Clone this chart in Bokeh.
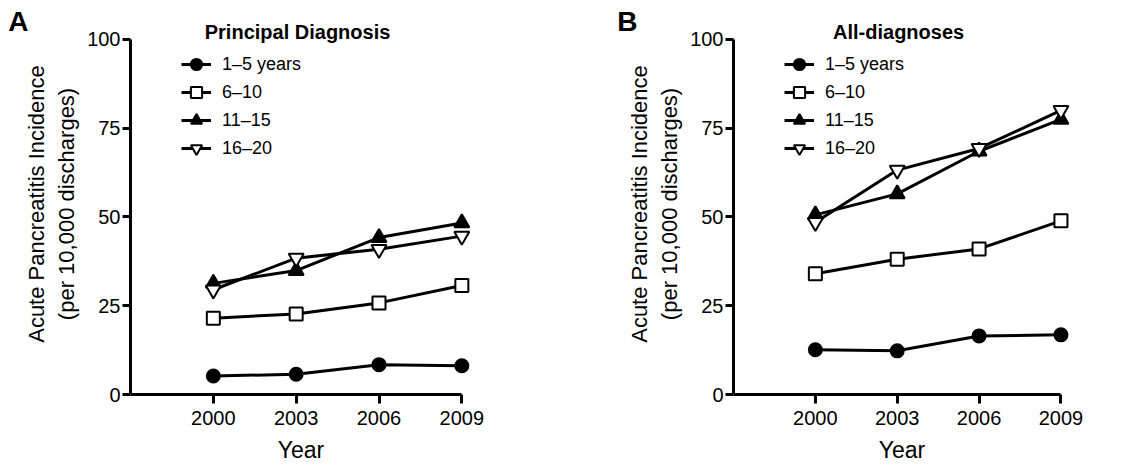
from bokeh.plotting import figure
from bokeh.layouts import row
from bokeh.models import Range1d, FixedTicker, Label, Legend, LegendItem, LinearAxis
from bokeh.embed import file_html
from bokeh.resources import INLINE

years = [2000, 2003, 2006, 2009]
groups = ["1\u20135 years", "6\u201310", "11\u201315", "16\u201320"]

# Panel A: Principal Diagnosis
a_1_5 = [5.2, 5.7, 8.4, 8.1]
a_6_10 = [21.5, 22.7, 25.8, 30.7]
a_11_15 = [31.3, 34.9, 44.2, 48.3]
a_16_20 = [29.5, 38.4, 40.9, 44.6]

# Panel B: All-diagnoses
b_1_5 = [12.6, 12.3, 16.5, 16.8]
b_6_10 = [34.0, 38.1, 41.0, 48.9]
b_11_15 = [50.6, 56.5, 68.5, 77.5]
b_16_20 = [48.5, 63.2, 69.3, 80.0]

y_ticks = [0, 25, 50, 75, 100]

FONT = "Liberation Sans"
markers = [("circle", 13, "black"), ("square", 13, "white"),
           ("triangle", 15, "black"), ("inverted_triangle", 15, "white")]


def make_panel(letter, title, series, width, border_left, border_right, letter_standoff):
    p = figure(width=width, height=465, output_backend="svg", toolbar_location=None,
               x_range=Range1d(1997, 2009.35), y_range=Range1d(0, 107.3),
               min_border_left=border_left, min_border_right=border_right,
               min_border_top=13, min_border_bottom=70)
    p.outline_line_color = None
    p.grid.visible = False
    p.background_fill_color = "white"
    p.border_fill_color = "white"

    for ax in (p.xaxis[0], p.yaxis[0]):
        ax.axis_line_width = 3
        ax.major_tick_line_width = 3
        ax.major_tick_in = 0
        ax.minor_tick_line_color = None
        ax.major_label_text_font = FONT
        ax.major_label_text_font_size = "20px"
        ax.major_label_text_color = "black"
        ax.axis_label_text_font = FONT
        ax.axis_label_text_font_style = "normal"
        ax.axis_label_text_color = "black"
    p.xaxis.ticker = FixedTicker(ticks=years)
    p.xaxis.bounds = (1997, 2009)
    p.xaxis.axis_label = "Year"
    p.xaxis.axis_label_text_font_size = "23px"
    p.xaxis.major_tick_out = 9
    p.xaxis.major_label_standoff = 7
    p.xaxis.axis_label_standoff = 9
    p.yaxis.ticker = FixedTicker(ticks=y_ticks)
    p.yaxis.bounds = (0, 100)
    p.yaxis.axis_label = "Acute Pancreatitis Incidence\n(per 10,000 discharges)"
    p.yaxis.axis_label_text_font_size = "22px"
    p.yaxis.major_tick_out = 8
    p.yaxis.major_label_standoff = 2
    p.yaxis.axis_label_standoff = 5

    # panel letter, drawn as the only tick label of an outer, invisible axis
    letter_axis = LinearAxis(ticker=FixedTicker(ticks=[105]),
                             major_label_overrides={105: letter},
                             axis_line_color=None, major_tick_line_color=None,
                             minor_tick_line_color=None, major_tick_out=0,
                             major_tick_in=0, major_label_standoff=letter_standoff,
                             major_label_text_font=FONT,
                             major_label_text_font_size="28px",
                             major_label_text_font_style="bold",
                             major_label_text_color="black")
    p.add_layout(letter_axis, "left")

    items = []
    for name, vals, (mk, sz, fill) in zip(groups, series, markers):
        ln = p.line(years, vals, line_color="black", line_width=3)
        sc = p.scatter(years, vals, marker=mk, size=sz, fill_color=fill,
                       line_color="black", line_width=2)
        items.append(LegendItem(label=name, renderers=[ln, sc]))

    leg = Legend(items=items, location=(51, 232), orientation="vertical",
                 glyph_width=30, glyph_height=28, label_height=28, spacing=0,
                 padding=0, margin=0, label_standoff=11,
                 label_text_font=FONT, label_text_font_size="18px",
                 label_text_color="black",
                 border_line_color=None, background_fill_alpha=0)
    p.add_layout(leg)

    p.add_layout(Label(x=2003.05, y=102.0, text=title, text_font=FONT,
                       text_font_size="20px", text_font_style="bold",
                       text_color="black",
                       text_align="center", text_baseline="middle"))
    return p


pA = make_panel("A", "Principal Diagnosis", [a_1_5, a_6_10, a_11_15, a_16_20],
                568, 130, 97, -7)
pB = make_panel("B", "All-diagnoses", [b_1_5, b_6_10, b_11_15, b_16_20],
                560, 165, 58, -13)

layout = row(pA, pB)
open("out.html", "w").write(file_html(layout, INLINE))
